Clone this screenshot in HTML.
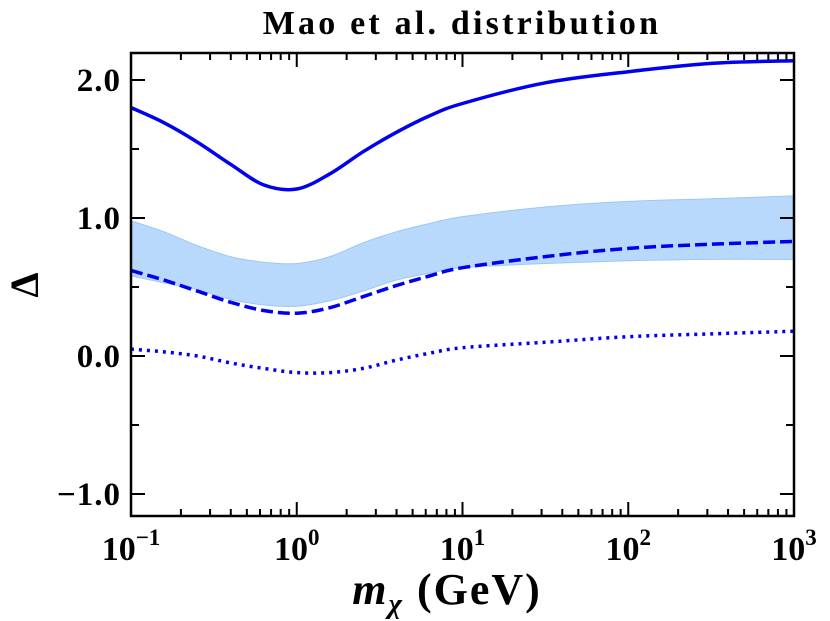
<!DOCTYPE html>
<html><head><meta charset="utf-8"><style>
html,body{margin:0;padding:0;background:#fff;}
svg{display:block;font-family:"Liberation Serif",serif;font-weight:bold;}
</style></head><body>
<svg id="chart" width="830" height="621" xmlns="http://www.w3.org/2000/svg">
<text x="462" y="34" font-size="34" letter-spacing="3.2" text-anchor="middle">Mao et al. distribution</text>
<text x="447" y="604" font-size="44" letter-spacing="2" text-anchor="middle"><tspan font-style="italic">m</tspan><tspan font-size="29" font-style="italic" dy="9">χ</tspan><tspan dy="-9"> (GeV)</tspan></text>
<text x="0" y="0" font-size="40" text-anchor="middle" transform="translate(38,285) rotate(-90)">Δ</text>
<g id="plot"></g>
</svg>
<script>
const xs = [-1,-0.8,-0.6,-0.4,-0.2,0,0.2,0.4,0.6,0.8,1,1.5,2,2.5,3];
const solidVals = [1.80,1.69,1.55,1.39,1.24,1.21,1.32,1.48,1.62,1.74,1.83,1.98,2.06,2.12,2.14];
const dashedVals = [0.62,0.55,0.47,0.39,0.33,0.31,0.35,0.43,0.51,0.58,0.64,0.72,0.78,0.81,0.83];
const bandUpper = [0.98,0.90,0.80,0.72,0.68,0.67,0.72,0.82,0.90,0.96,1.01,1.08,1.12,1.14,1.16];
const bandLower = [0.58,0.53,0.48,0.41,0.37,0.36,0.40,0.47,0.55,0.60,0.64,0.67,0.69,0.70,0.70];
const dottedVals = [0.05,0.03,0.00,-0.05,-0.09,-0.12,-0.12,-0.09,-0.03,0.02,0.06,0.10,0.14,0.16,0.18];
const xTickExps = [-1,0,1,2,3];
const yTicks = [-1.0,0.0,1.0,2.0];

const L=131,R=794,T=53,B=516;
const sx = e => L + (e+1)/4*(R-L);
const sy = v => 356 - v*138;
const NS="http://www.w3.org/2000/svg";
const g=document.getElementById('plot');
function mk(tag,attrs){const e=document.createElementNS(NS,tag);for(const k in attrs)e.setAttribute(k,attrs[k]);g.appendChild(e);return e;}
function curve(p){
  let d='';
  for(let i=0;i<p.length-1;i++){
    const p0=p[Math.max(i-1,0)],p1=p[i],p2=p[i+1],p3=p[Math.min(i+2,p.length-1)];
    const c1=[p1[0]+(p2[0]-p0[0])/6,p1[1]+(p2[1]-p0[1])/6];
    const c2=[p2[0]-(p3[0]-p1[0])/6,p2[1]-(p3[1]-p1[1])/6];
    d+=' C'+c1.map(v=>v.toFixed(1)).join(',')+' '+c2.map(v=>v.toFixed(1)).join(',')+' '+p2.map(v=>v.toFixed(1)).join(',');
  }
  return d;
}
function smooth(arr){const p=xs.map((x,i)=>[sx(x),sy(arr[i])]);return 'M'+p[0][0].toFixed(1)+','+p[0][1].toFixed(1)+curve(p);}
function smoothRev(arr){const p=xs.map((x,i)=>[sx(x),sy(arr[i])]).reverse();return ' L'+p[0][0].toFixed(1)+','+p[0][1].toFixed(1)+curve(p)+' Z';}
let band=mk('path',{d:smooth(bandUpper)+smoothRev(bandLower),fill:'#b8d9fb',stroke:'#9cc8f5','stroke-width':1});


let s=mk('path',{d:smooth(solidVals),fill:'none',stroke:'#0000ee','stroke-width':3.5});


let d=mk('path',{d:smooth(dashedVals),fill:'none',stroke:'#0000ee','stroke-width':3.5,'stroke-dasharray':'12,5'});


let o=mk('path',{d:smooth(dottedVals),fill:'none',stroke:'#0000ee','stroke-width':3.5,'stroke-dasharray':'3,5'});


let fr=mk('rect',{x:L,y:T,width:R-L,height:B-T,fill:'none',stroke:'#000','stroke-width':2.5});


for(let e=-1;e<3;e++){for(let m=2;m<10;m++){const x=sx(e+Math.log10(m));
mk('line',{x1:x,x2:x,y1:B,y2:B-7,stroke:'#000','stroke-width':2});mk('line',{x1:x,x2:x,y1:T,y2:T+7,stroke:'#000','stroke-width':2});}}
xTickExps.forEach(e=>{const x=sx(e);
mk('line',{x1:x,x2:x,y1:B,y2:B-14,stroke:'#000','stroke-width':2});mk('line',{x1:x,x2:x,y1:T,y2:T+14,stroke:'#000','stroke-width':2});
const t=mk('text',{x:x,y:B+44,'font-size':34,'text-anchor':'middle'});


t.innerHTML='10<tspan font-size="23" dy="-15">'+(e<0?'−'+(-e):e)+'</tspan>';});
for(let v=-1;v<=2.01;v+=0.5){const y=sy(v);const major=Math.abs(v-Math.round(v))<0.01;const len=major?14:8;
mk('line',{x1:L,x2:L+len,y1:y,y2:y,stroke:'#000','stroke-width':2});mk('line',{x1:R,x2:R-len,y1:y,y2:y,stroke:'#000','stroke-width':2});}
yTicks.forEach(v=>{const t=mk('text',{x:L-10,y:sy(v)+11,'font-size':33,'letter-spacing':1,'text-anchor':'end'});


t.textContent=(v<0?'−':'')+Math.abs(v).toFixed(1);});
</script>
</body></html>
